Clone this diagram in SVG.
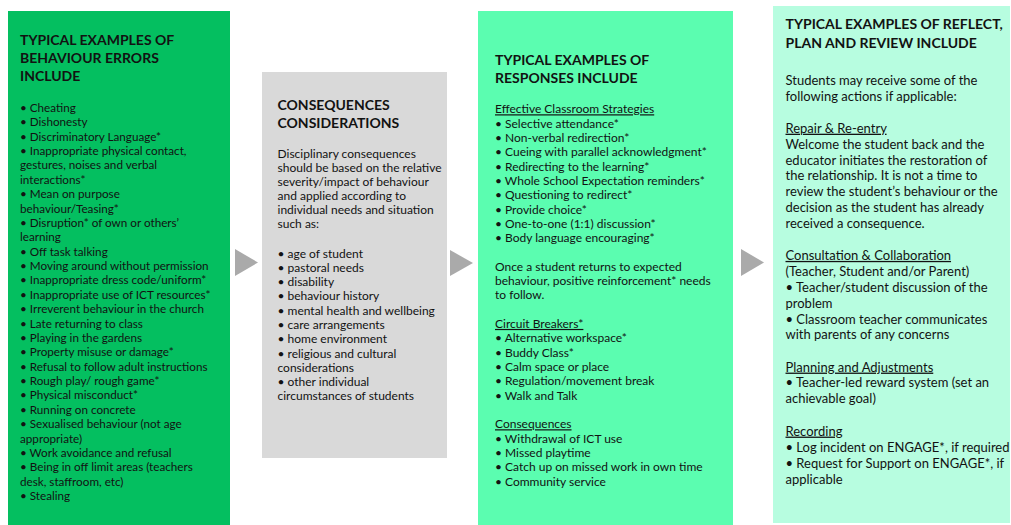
<svg xmlns="http://www.w3.org/2000/svg" width="1011" height="525" viewBox="0 0 1011 525">
<style>
text{font-family:Lato,"Liberation Sans",sans-serif;fill:#121212}
.h{font-size:14px;font-weight:bold}
.b{font-size:12px}
.b1{font-size:11.7px}
.b4{font-size:13px}
.u{text-decoration:underline}
.arrow{fill:#AAAAAA}
</style>
<rect width="1011" height="525" fill="#FFFFFF"/>
<g id="connectors">
<polygon class="arrow" points="235,249 258,262.5 235,276"/>
<polygon class="arrow" points="450,250 473,263 450,276"/>
<polygon class="arrow" points="741,249 764,262.5 741,276"/>
</g>
<g id="node-errors">
<rect x="8" y="11" width="222" height="514" fill="#04BF60"/>
<text class="h" x="20" y="44.5"><tspan x="20">TYPICAL EXAMPLES OF</tspan><tspan x="20" dy="18.2">BEHAVIOUR ERRORS</tspan><tspan x="20" dy="18">INCLUDE</tspan></text>
<text class="b1" x="20" y="112">
<tspan x="20">• Cheating</tspan>
<tspan x="20" dy="14.37">• Dishonesty</tspan>
<tspan x="20" dy="14.37">• Discriminatory Language*</tspan>
<tspan x="20" dy="14.37">• Inappropriate physical contact,</tspan>
<tspan x="20" dy="14.37">gestures, noises and verbal</tspan>
<tspan x="20" dy="14.37">interactions*</tspan>
<tspan x="20" dy="14.37">• Mean on purpose</tspan>
<tspan x="20" dy="14.37">behaviour/Teasing*</tspan>
<tspan x="20" dy="14.37">• Disruption* of own or others’</tspan>
<tspan x="20" dy="14.37">learning</tspan>
<tspan x="20" dy="14.37">• Off task talking</tspan>
<tspan x="20" dy="14.37">• Moving around without permission</tspan>
<tspan x="20" dy="14.37">• Inappropriate dress code/uniform*</tspan>
<tspan x="20" dy="14.37">• Inappropriate use of ICT resources*</tspan>
<tspan x="20" dy="14.37">• Irreverent behaviour in the church</tspan>
<tspan x="20" dy="14.37">• Late returning to class</tspan>
<tspan x="20" dy="14.37">• Playing in the gardens</tspan>
<tspan x="20" dy="14.37">• Property misuse or damage*</tspan>
<tspan x="20" dy="14.37">• Refusal to follow adult instructions</tspan>
<tspan x="20" dy="14.37">• Rough play/ rough game*</tspan>
<tspan x="20" dy="14.37">• Physical misconduct*</tspan>
<tspan x="20" dy="14.37">• Running on concrete</tspan>
<tspan x="20" dy="14.37">• Sexualised behaviour (not age</tspan>
<tspan x="20" dy="14.37">appropriate)</tspan>
<tspan x="20" dy="14.37">• Work avoidance and refusal</tspan>
<tspan x="20" dy="14.37">• Being in off limit areas (teachers</tspan>
<tspan x="20" dy="14.37">desk, staffroom, etc)</tspan>
<tspan x="20" dy="14.37">• Stealing</tspan>
</text>
</g>
<g id="node-consequences">
<rect x="262" y="72" width="185" height="386" fill="#D9D9D9"/>
<text class="h"><tspan x="277.5" y="110">CONSEQUENCES</tspan><tspan x="277.5" dy="18.3">CONSIDERATIONS</tspan></text>
<text class="b" y="157.7">
<tspan x="277.5">Disciplinary consequences</tspan>
<tspan x="277.5" dy="14.1">should be based on the relative</tspan>
<tspan x="277.5" dy="14.1">severity/impact of behaviour</tspan>
<tspan x="277.5" dy="14.1">and applied according to</tspan>
<tspan x="277.5" dy="14.1">individual needs and situation</tspan>
<tspan x="277.5" dy="14.1">such as:</tspan>
<tspan x="277.5" dy="29.5">• age of student</tspan>
<tspan x="277.5" dy="14.26">• pastoral needs</tspan>
<tspan x="277.5" dy="14.26">• disability</tspan>
<tspan x="277.5" dy="14.26">• behaviour history</tspan>
<tspan x="277.5" dy="14.26">• mental health and wellbeing</tspan>
<tspan x="277.5" dy="14.26">• care arrangements</tspan>
<tspan x="277.5" dy="14.26">• home environment</tspan>
<tspan x="277.5" dy="14.26">• religious and cultural</tspan>
<tspan x="277.5" dy="14.26">considerations</tspan>
<tspan x="277.5" dy="14.26">• other individual</tspan>
<tspan x="277.5" dy="14.26">circumstances of students</tspan>
</text>
</g>
<g id="node-responses">
<rect x="478" y="11" width="255" height="514" fill="#5BFDB0"/>
<text class="h"><tspan x="495" y="65">TYPICAL EXAMPLES OF</tspan><tspan x="495" dy="18.3">RESPONSES INCLUDE</tspan></text>
<text class="b" y="113.3">
<tspan x="495" class="u">Effective Classroom Strategies</tspan>
<tspan x="495" dy="14.33">• Selective attendance*</tspan>
<tspan x="495" dy="14.33">• Non-verbal redirection*</tspan>
<tspan x="495" dy="14.33">• Cueing with parallel acknowledgment*</tspan>
<tspan x="495" dy="14.33">• Redirecting to the learning*</tspan>
<tspan x="495" dy="14.33">• Whole School Expectation reminders*</tspan>
<tspan x="495" dy="14.33">• Questioning to redirect*</tspan>
<tspan x="495" dy="14.33">• Provide choice*</tspan>
<tspan x="495" dy="14.33">• One-to-one (1:1) discussion*</tspan>
<tspan x="495" dy="14.33">• Body language encouraging*</tspan>
<tspan x="495" dy="28.3">Once a student returns to expected</tspan>
<tspan x="495" dy="14.33">behaviour, positive reinforcement* needs</tspan>
<tspan x="495" dy="14.33">to follow.</tspan>
<tspan x="495" dy="28.7" class="u">Circuit Breakers*</tspan>
<tspan x="495" dy="14.33">• Alternative workspace*</tspan>
<tspan x="495" dy="14.33">• Buddy Class*</tspan>
<tspan x="495" dy="14.33">• Calm space or place</tspan>
<tspan x="495" dy="14.33">• Regulation/movement break</tspan>
<tspan x="495" dy="14.33">• Walk and Talk</tspan>
<tspan x="495" dy="28.7" class="u">Consequences</tspan>
<tspan x="495" dy="14.33">• Withdrawal of ICT use</tspan>
<tspan x="495" dy="14.33">• Missed playtime</tspan>
<tspan x="495" dy="14.33">• Catch up on missed work in own time</tspan>
<tspan x="495" dy="14.33">• Community service</tspan>
</text>
</g>
<g id="node-reflect">
<rect x="773" y="6" width="237" height="517" fill="#B7FDE0"/>
<text class="h"><tspan x="785.5" y="29.3">TYPICAL EXAMPLES OF REFLECT,</tspan><tspan x="785.5" dy="18.4">PLAN AND REVIEW INCLUDE</tspan></text>
<text class="b4" y="85">
<tspan x="785.5">Students may receive some of the</tspan>
<tspan x="785.5" dy="15.9">following actions if applicable:</tspan>
<tspan x="785.5" dy="31.8" class="u">Repair &amp; Re-entry</tspan>
<tspan x="785.5" dy="15.9">Welcome the student back and the</tspan>
<tspan x="785.5" dy="15.9">educator initiates the restoration of</tspan>
<tspan x="785.5" dy="15.9">the relationship. It is not a time to</tspan>
<tspan x="785.5" dy="15.9">review the student’s behaviour or the</tspan>
<tspan x="785.5" dy="15.9">decision as the student has already</tspan>
<tspan x="785.5" dy="15.9">received a consequence.</tspan>
<tspan x="785.5" dy="31.8" class="u">Consultation &amp; Collaboration</tspan>
<tspan x="785.5" dy="15.9">(Teacher, Student and/or Parent)</tspan>
<tspan x="785.5" dy="15.9">• Teacher/student discussion of the</tspan>
<tspan x="785.5" dy="15.9">problem</tspan>
<tspan x="785.5" dy="15.9">• Classroom teacher communicates</tspan>
<tspan x="785.5" dy="15.9">with parents of any concerns</tspan>
<tspan x="785.5" dy="32.2" class="u">Planning and Adjustments</tspan>
<tspan x="785.5" dy="15.9">• Teacher-led reward system (set an</tspan>
<tspan x="785.5" dy="15.9">achievable goal)</tspan>
<tspan x="785.5" dy="32.2" class="u">Recording</tspan>
<tspan x="785.5" dy="16.2">• Log incident on ENGAGE*, if required</tspan>
<tspan x="785.5" dy="16">• Request for Support on ENGAGE*, if</tspan>
<tspan x="785.5" dy="16">applicable</tspan>
</text>
</g>
</svg>
